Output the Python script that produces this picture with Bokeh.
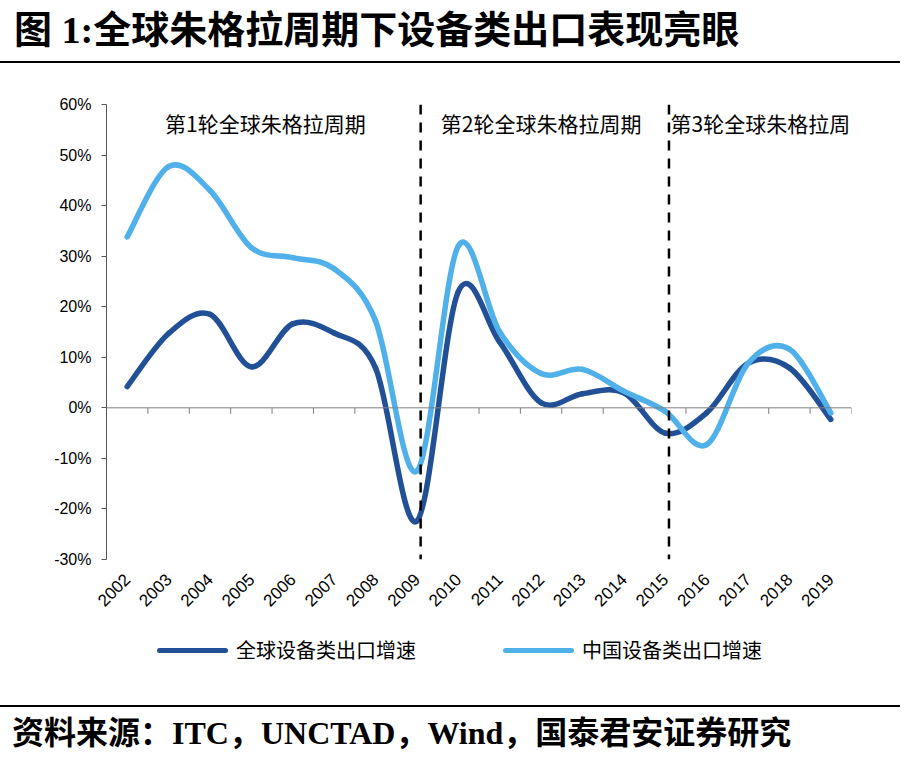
import math
from bokeh.plotting import figure
from bokeh.models import (Div, Range1d, FixedTicker, Span, Label, ColumnDataSource)
from bokeh.layouts import column
from bokeh.embed import file_html
from bokeh.resources import INLINE

# ---------------- data ----------------
years = ["2002", "2003", "2004", "2005", "2006", "2007", "2008", "2009", "2010",
         "2011", "2012", "2013", "2014", "2015", "2016", "2017", "2018", "2019"]
global_growth = [4.2, 14.7, 18.5, 8.1, 16.6, 14.8, 7.9, -22.4, 23.0,
                 13.0, 1.0, 2.8, 3.0, -5.0, -1.0, 8.8, 7.9, -2.3]
china_growth = [33.8, 47.7, 43.0, 31.7, 29.7, 27.5, 17.2, -12.5, 32.0,
                15.0, 6.8, 7.6, 3.3, -0.7, -7.3, 8.8, 11.6, -1.0]
series_names = ["全球设备类出口增速", "中国设备类出口增速"]
y_ticks = [-30, -20, -10, 0, 10, 20, 30, 40, 50, 60]
y_tick_labels = ["-30%", "-20%", "-10%", "0%", "10%", "20%", "30%", "40%", "50%", "60%"]
cycle_starts = ["2009", "2015"]
cycle_labels = ["第1轮全球朱格拉周期", "第2轮全球朱格拉周期", "第3轮全球朱格拉周"]
title_text = "图 1:全球朱格拉周期下设备类出口表现亮眼"
source_text = "资料来源：ITC，UNCTAD，Wind，国泰君安证券研究"

DARK = "#215096"
LIGHT = "#50b0ea"
AXIS_GREY = "#7f7f7f"
CJK = "Noto Sans CJK SC"


def smooth_source(vals):
    """Smoothed (Excel-like) curve segments through the data points."""
    n = len(vals)
    xs = list(range(n))
    d = dict(x0=[], y0=[], x1=[], y1=[], cx0=[], cy0=[], cx1=[], cy1=[])
    for i in range(n - 1):
        a = i - 1 if i > 0 else i
        b = i + 2 if i + 2 < n else i + 1
        d["x0"].append(xs[i]); d["y0"].append(vals[i])
        d["x1"].append(xs[i + 1]); d["y1"].append(vals[i + 1])
        d["cx0"].append(xs[i] + (xs[i + 1] - xs[a]) / 6)
        d["cy0"].append(vals[i] + (vals[i + 1] - vals[a]) / 6)
        d["cx1"].append(xs[i + 1] - (xs[b] - xs[i]) / 6)
        d["cy1"].append(vals[i + 1] - (vals[b] - vals[i]) / 6)
    return ColumnDataSource(d)


n = len(years)
p = figure(width=900, height=560,
           x_range=Range1d(-0.5, n - 0.5), y_range=Range1d(y_ticks[0], y_ticks[-1]),
           output_backend="svg", toolbar_location=None,
           min_border_left=106, min_border_right=49,
           min_border_top=39, min_border_bottom=66)
p.outline_line_color = None
p.grid.visible = False

# bottom axis: year labels only
xa = p.xaxis[0]
xa.ticker = FixedTicker(ticks=list(range(n)))
xa.major_label_overrides = {i: y for i, y in enumerate(years)}
xa.axis_line_color = None
xa.major_tick_line_color = None
xa.minor_tick_line_color = None
xa.major_label_orientation = math.pi / 4
xa.major_label_text_font = "Liberation Sans"
xa.major_label_text_font_size = "17px"
xa.major_label_text_color = "black"
xa.major_label_standoff = 11

ya = p.yaxis[0]
ya.ticker = FixedTicker(ticks=y_ticks)
ya.major_label_overrides = {v: s for v, s in zip(y_ticks, y_tick_labels)}
ya.axis_line_color = "#555555"
ya.major_tick_line_color = "#555555"
ya.major_tick_out = 5
ya.major_tick_in = 0
ya.minor_tick_line_color = None
ya.major_label_text_font = "Liberation Sans"
ya.major_label_text_font_size = "16px"
ya.major_label_text_color = "black"
ya.major_label_standoff = 10

# zero line with category-boundary tick marks
p.add_layout(Span(location=0, dimension="width", line_color=AXIS_GREY, line_width=1))
bounds = [i - 0.5 for i in range(n + 1)]
p.segment(x0=bounds, y0=[0] * len(bounds), x1=bounds, y1=[-1.2] * len(bounds),
          line_color=AXIS_GREY, line_width=1)

# cycle separators
for yr in cycle_starts:
    p.add_layout(Span(location=years.index(yr) + 0.09, dimension="height",
                      line_color="black", line_width=2.5, line_dash="10 8"))

# series
r_dark = p.bezier(x0="x0", y0="y0", x1="x1", y1="y1", cx0="cx0", cy0="cy0",
                  cx1="cx1", cy1="cy1", source=smooth_source(global_growth),
                  line_color=DARK, line_width=5.5, line_cap="round")
r_light = p.bezier(x0="x0", y0="y0", x1="x1", y1="y1", cx0="cx0", cy0="cy0",
                   cx1="cx1", cy1="cy1", source=smooth_source(china_growth),
                   line_color=LIGHT, line_width=5.5, line_cap="round")

# cycle labels
for lbl, xpos in zip(cycle_labels, [3.34, 10.0, 15.3]):
    p.add_layout(Label(x=xpos, y=56.3, text=lbl, text_align="center",
                       text_baseline="middle", text_font=CJK,
                       text_font_size="21px", text_color="black"))

title_div = Div(text=(
    f'<div style="width:900px;height:63px;border-bottom:2px solid black;'
    f'font:bold 38px \'Liberation Serif\',\'{CJK}\';line-height:60px;'
    f'padding-left:14px;box-sizing:border-box;color:black;white-space:nowrap">'
    f'{title_text}</div>'),
    width=900, height=65, margin=(0, 0, 0, 0))


def legend_item(color, label, left):
    return (f'<div style="position:absolute;left:{left}px;top:15px;height:20px;'
            f'display:flex;align-items:center;white-space:nowrap">'
            f'<span style="display:inline-block;width:71px;height:5px;'
            f'border-radius:3px;background:{color}"></span>'
            f'<span style="margin-left:8px;font:20px \'{CJK}\';line-height:20px;'
            f'color:black">{label}</span></div>')


legend_div = Div(text=(
    '<div style="position:relative;width:900px;height:80px">'
    + legend_item(DARK, series_names[0], 157)
    + legend_item(LIGHT, series_names[1], 503)
    + '</div>'),
    width=900, height=80, margin=(0, 0, 0, 0))

source_div = Div(text=(
    f'<div style="width:900px;border-top:2px solid black;padding-top:7px;'
    f'font:bold 32px \'Liberation Serif\',\'{CJK}\';line-height:38px;'
    f'padding-left:12px;box-sizing:border-box;color:black;white-space:nowrap">'
    f'{source_text}</div>'),
    width=900, height=58, margin=(0, 0, 0, 0))

layout = column(title_div, p, legend_div, source_div, spacing=0)
open("out.html", "w").write(file_html(layout, INLINE))
